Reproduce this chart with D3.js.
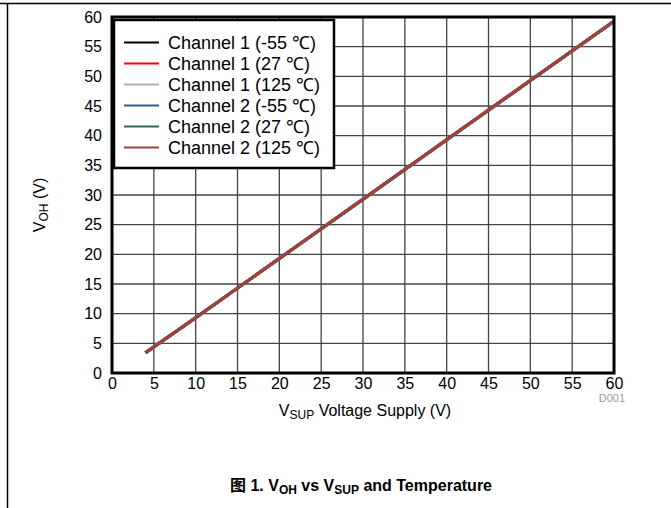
<!DOCTYPE html>
<html>
<head>
<meta charset="utf-8">
<script src="https://cdn.jsdelivr.net/npm/d3@7"></script>
<style>
  body { margin: 0; background: #fff; }
  text { font-family: "Liberation Sans", Arial, sans-serif; }
</style>
</head>
<body>
<div id="chart"></div>
<script>
// data
var seriesNames = ["Channel 1 (-55 \u2103)", "Channel 1 (27 \u2103)", "Channel 1 (125 \u2103)",
                   "Channel 2 (-55 \u2103)", "Channel 2 (27 \u2103)", "Channel 2 (125 \u2103)"];
var seriesColors = ["#000000", "#ff0000", "#b0b0b0", "#2f6080", "#2e6b48", "#a3403f"];
var vsup = [4, 10, 20, 30, 40, 50, 60];
var ch1m55 = [3.4, 9.3, 19.3, 29.3, 39.3, 49.3, 59.3];
var ch1p27 = [3.4, 9.3, 19.3, 29.3, 39.3, 49.3, 59.3];
var ch1p125 = [3.4, 9.3, 19.3, 29.3, 39.3, 49.3, 59.3];
var ch2m55 = [3.4, 9.3, 19.3, 29.3, 39.3, 49.3, 59.3];
var ch2p27 = [3.4, 9.3, 19.3, 29.3, 39.3, 49.3, 59.3];
var ch2p125 = [3.4, 9.3, 19.3, 29.3, 39.3, 49.3, 59.3];
var xTicks = d3.range(0, 61, 5);
var yTicks = d3.range(0, 61, 5);

(function(){
  var width = 671, height = 508;
  var margin = {left: 112, top: 17, right: 57, bottom: 135};

  var svg = d3.select("#chart").append("svg")
    .attr("width", width)
    .attr("height", height);

  // page frame
  svg.append("line").attr("x1", 0).attr("x2", width).attr("y1", 3.5).attr("y2", 3.5)
    .attr("stroke", "#000").attr("stroke-width", 1.5);
  svg.append("line").attr("x1", 7.5).attr("x2", 7.5).attr("y1", 3).attr("y2", height)
    .attr("stroke", "#000").attr("stroke-width", 1.5);

  var x = d3.scaleLinear().domain([0, 60]).range([margin.left, width - margin.right]);
  var y = d3.scaleLinear().domain([0, 60]).range([height - margin.bottom, margin.top]);

  // grid
  svg.append("g").selectAll("line").data(xTicks.slice(1, -1)).enter().append("line")
    .attr("x1", function(d){ return x(d); }).attr("x2", function(d){ return x(d); })
    .attr("y1", y(0)).attr("y2", y(60))
    .attr("stroke", "#444").attr("stroke-width", 1.3);
  svg.append("g").selectAll("line").data(yTicks.slice(1, -1)).enter().append("line")
    .attr("y1", function(d){ return y(d); }).attr("y2", function(d){ return y(d); })
    .attr("x1", x(0)).attr("x2", x(60))
    .attr("stroke", "#444").attr("stroke-width", 1.3);

  // axes (labels only)
  var xAxis = svg.append("g").attr("transform", "translate(0," + y(0) + ")")
    .call(d3.axisBottom(x).tickValues(xTicks).tickSize(0).tickPadding(5));
  var yAxis = svg.append("g").attr("transform", "translate(" + x(0) + ",0)")
    .call(d3.axisLeft(y).tickValues(yTicks).tickSize(0).tickPadding(10));
  [xAxis, yAxis].forEach(function(a){
    a.select(".domain").remove();
    a.selectAll("text").attr("font-size", 16).attr("fill", "#000")
      .style("font-family", "'Liberation Sans', Arial, sans-serif");
  });

  // lines
  var allSeries = [ch1m55, ch1p27, ch1p125, ch2m55, ch2p27, ch2p125];
  var line = d3.line()
    .x(function(d, i){ return x(vsup[i]); })
    .y(function(d){ return y(d); });
  svg.append("g").selectAll("path").data(allSeries).enter().append("path")
    .attr("d", line)
    .attr("fill", "none")
    .attr("stroke", function(d, i){ return seriesColors[i]; })
    .attr("stroke-width", 3);

  // plot border
  svg.append("rect")
    .attr("x", x(0)).attr("y", y(60))
    .attr("width", x(60) - x(0)).attr("height", y(0) - y(60))
    .attr("fill", "none").attr("stroke", "#000").attr("stroke-width", 3);

  // legend
  var lg = svg.append("g");
  lg.append("rect").attr("x", 114).attr("y", 20).attr("width", 220).attr("height", 148)
    .attr("fill", "#fff").attr("stroke", "#000").attr("stroke-width", 2.5);
  var rows = lg.selectAll("g.row").data(seriesNames).enter().append("g")
    .attr("class", "row")
    .attr("transform", function(d, i){ return "translate(0," + (42.5 + i * 21) + ")"; });
  rows.append("line").attr("x1", 124).attr("x2", 159).attr("y1", 0).attr("y2", 0)
    .attr("stroke", function(d, i){ return seriesColors[i]; }).attr("stroke-width", 2);
  rows.append("text").attr("x", 168).attr("y", 6.5).attr("font-size", 18)
    .text(function(d){ return d; });

  // axis titles
  var xt = svg.append("text").attr("x", 365).attr("y", 416).attr("text-anchor", "middle")
    .attr("font-size", 16);
  xt.append("tspan").text("V");
  xt.append("tspan").attr("font-size", 12).attr("dy", 3).text("SUP");
  xt.append("tspan").attr("dy", -3).text(" Voltage Supply (V)");

  var yt = svg.append("text").attr("transform", "translate(45," + 205 + ") rotate(-90)")
    .attr("text-anchor", "middle").attr("font-size", 16);
  yt.append("tspan").text("V");
  yt.append("tspan").attr("font-size", 12).attr("dy", 3).text("OH");
  yt.append("tspan").attr("dy", -3).text(" (V)");

  svg.append("text").attr("x", 625).attr("y", 402).attr("text-anchor", "end")
    .attr("font-size", 11).attr("fill", "#999").text("D001");

  // caption
  var cap = svg.append("text").attr("x", 361).attr("y", 491).attr("text-anchor", "middle")
    .attr("font-size", 16).attr("font-weight", "bold");
  cap.append("tspan").style("font-family", "'Noto Sans CJK SC', sans-serif").text("\u56fe");
  cap.append("tspan").text(" 1. V");
  cap.append("tspan").attr("font-size", 12).attr("dy", 3).text("OH");
  cap.append("tspan").attr("dy", -3).text(" vs V");
  cap.append("tspan").attr("font-size", 12).attr("dy", 3).text("SUP");
  cap.append("tspan").attr("dy", -3).text(" and Temperature");
})();
</script>
</body>
</html>
